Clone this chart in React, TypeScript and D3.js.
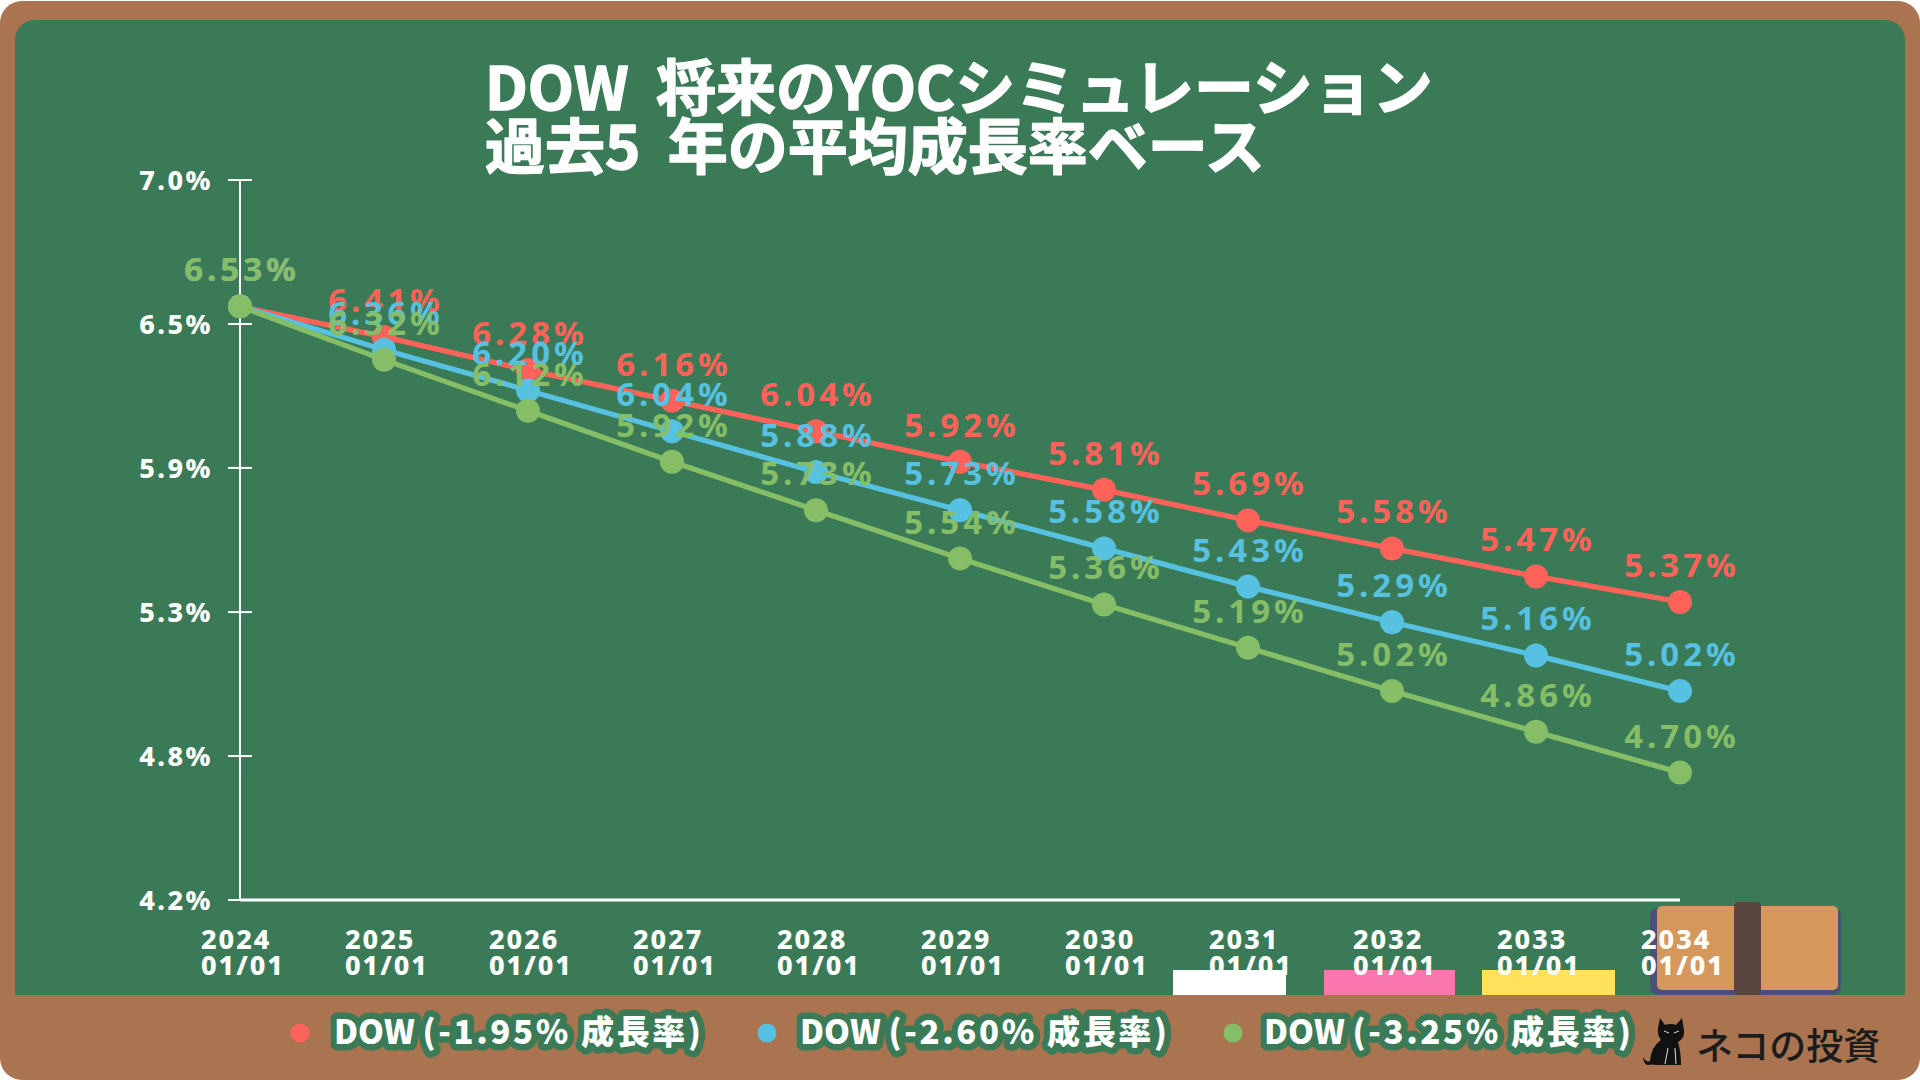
import { line, scaleLinear, scalePoint } from "d3";

const years = ["2024", "2025", "2026", "2027", "2028", "2029", "2030", "2031", "2032", "2033", "2034"];
const redValues = [6.53, 6.41, 6.28, 6.16, 6.04, 5.92, 5.81, 5.69, 5.58, 5.47, 5.37];
const blueValues = [6.53, 6.36, 6.2, 6.04, 5.88, 5.73, 5.58, 5.43, 5.29, 5.16, 5.02];
const greenValues = [6.53, 6.32, 6.12, 5.92, 5.73, 5.54, 5.36, 5.19, 5.02, 4.86, 4.7];
const yTicks = [4.2, 4.765, 5.33, 5.896, 6.461, 7.026];
const titleLines = ["DOW  将来のYOCシミュレーション", "過去5  年の平均成長率ベース"];

const SANS = "'Noto Sans', 'Noto Sans CJK JP', sans-serif";
const CJK = "'Noto Sans CJK JP', 'Noto Sans', sans-serif";
const BROWN = "#A9744F";
const BOARD = "#3B7A57";

const series = [
  { name: "(-1.95% 成長率)", color: "#FF6259", values: redValues, dotX: 300, textX: 334 },
  { name: "(-2.60% 成長率)", color: "#56C1E0", values: blueValues, dotX: 767, textX: 800 },
  { name: "(-3.25% 成長率)", color: "#85BE66", values: greenValues, dotX: 1233, textX: 1264 },
];

export default function App() {
  const x = scalePoint<string>().domain(years).range([240, 1680]);
  const y = scaleLinear().domain([4.2, 7.026]).range([900, 180]);
  const path = line<number>()
    .x((_, i) => x(years[i]) as number)
    .y((d) => y(d));

  return (
    <svg
      width={1920}
      height={1080}
      viewBox="0 0 1920 1080"
      style={{ position: "fixed", left: 0, top: 0, background: "#fff" }}
    >
      {/* frame and board */}
      <rect x={0} y={1} width={1920} height={1079} rx={22} fill={BROWN} />
      <path d="M15 40 a20 20 0 0 1 20 -20 H1885 a20 20 0 0 1 20 20 V995 H15 Z" fill={BOARD} />

      {/* chalk and eraser */}
      <rect x={1173} y={970} width={113} height={25} fill="#fff" />
      <rect x={1324} y={970} width={131} height={25} fill="#F977AE" />
      <rect x={1482} y={970} width={133} height={25} fill="#FFE15C" />
      <rect x={1650} y={908} width={191} height={87} rx={8} fill="#4A5078" />
      <rect x={1657} y={906} width={181} height={84} rx={5} fill="#D4975C" />
      <rect x={1734} y={902} width={27} height={93} rx={4} fill="#5A4640" />

      {/* title */}
      <g
        fontFamily={CJK}
        fontWeight={700}
        fontSize={60}
        fill="#fff"
        stroke="#fff"
        strokeWidth={1.5}
        strokeLinejoin="round"
      >
        {titleLines.map((t, i) => (
          <text key={t} x={485} y={110 + i * 59} style={{ whiteSpace: "pre" }}>
            {t}
          </text>
        ))}
      </g>

      {/* y axis */}
      <line x1={240} x2={240} y1={y(7.026)} y2={y(4.2)} stroke="#fff" strokeWidth={2} />
      {yTicks.map((t) => (
        <g key={t} transform={`translate(240,${y(t)})`}>
          <line x1={-12} x2={12} stroke="#fff" strokeWidth={2} />
          <text
            x={-27}
            dy="0.36em"
            textAnchor="end"
            fontFamily={SANS}
            fontWeight={800}
            fontSize={27}
            letterSpacing={2.5}
            fill="#fff"
          >
            {t.toFixed(1)}%
          </text>
        </g>
      ))}

      {/* x axis */}
      <line x1={240} x2={1680} y1={900} y2={900} stroke="#fff" strokeWidth={3} />
      {years.map((yr) => (
        <g
          key={yr}
          fontFamily={SANS}
          fontWeight={800}
          fontSize={27}
          letterSpacing={2}
          fill="#fff"
          transform={`translate(${(x(yr) as number) - 39},0)`}
        >
          <text y={949}>{yr}</text>
          <text y={975}>01/01</text>
        </g>
      ))}

      {/* lines and dots */}
      {series.map((s) => (
        <g key={s.name}>
          <path d={path(s.values) ?? ""} fill="none" stroke={s.color} strokeWidth={5.3} />
          {s.values.map((v, i) => (
            <circle key={years[i]} cx={x(years[i])} cy={y(v)} r={12} fill={s.color} />
          ))}
        </g>
      ))}

      {/* value labels */}
      {series.map((s) => (
        <g
          key={s.name}
          fontFamily={SANS}
          fontWeight={700}
          fontSize={33}
          letterSpacing={4}
          fill={s.color}
          textAnchor="middle"
        >
          {s.values.map((v, i) => (
            <text key={years[i]} x={(x(years[i]) as number) + 2} y={y(v) - 25}>
              {v.toFixed(2)}%
            </text>
          ))}
        </g>
      ))}

      {/* legend */}
      {series.map((s) => (
        <g key={s.name}>
          <circle cx={s.dotX} cy={1033} r={9.5} fill={s.color} />
          <text
            x={s.textX}
            y={1044}
            fontFamily={CJK}
            fontWeight={800}
            fontSize={33}
            fill="#fff"
            stroke={BOARD}
            strokeWidth={13}
            strokeLinejoin="round"
            paintOrder="stroke"
          >
            <tspan>DOW </tspan>
            <tspan letterSpacing={2.6}>{s.name}</tspan>
          </text>
        </g>
      ))}

      {/* logo */}
      <path
        d="M1660 1018 l5 7 q6 -2 11 0 l6 -7 l2 12 q1 8 -6 12 q3 10 3 23 h-25 q-3 -1 -8 0 q-4 0 -5 -8 q4 6 7 4 q1 -14 11 -21 q-4 -5 -3 -12 Z"
        fill="#111"
      />
      <path d="M1664 1031 l5 2 M1674 1033 l5 -2 M1668 1048 l-3 16 M1675 1048 l1 16" stroke="#ddd" strokeWidth={1} fill="none" />
      <text x={1696} y={1060} fontFamily={CJK} fontWeight={500} fontSize={37} fill="#1c1c1c">
        ネコの投資
      </text>
    </svg>
  );
}
